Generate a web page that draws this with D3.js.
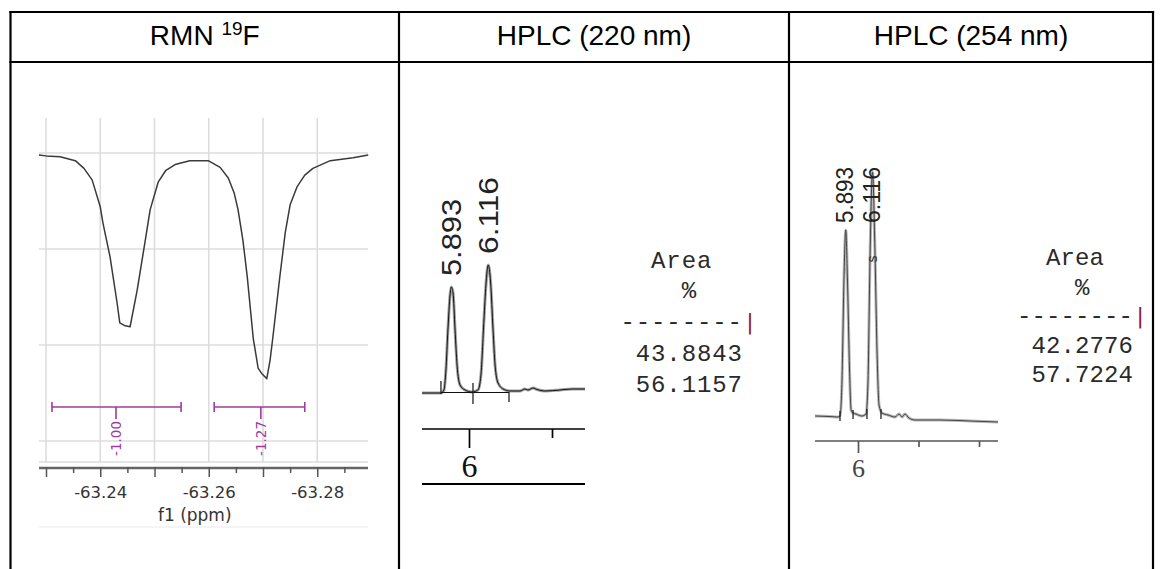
<!DOCTYPE html>
<html><head><meta charset="utf-8">
<script src="https://cdn.jsdelivr.net/npm/d3@7"></script>
<style>html,body{margin:0;padding:0;background:#fff;} svg{display:block;}</style>
</head><body>
<svg id="chart" width="1164" height="569"></svg>
<script>
// ---------------- DATA ----------------
const headers = ["RMN", "HPLC (220 nm)", "HPLC (254 nm)"];
const headerSup = "19";
const headerTail = "F";

// 19F NMR spectrum (ppm vs intensity, peaks drawn downward)
const nmrPpm = [-63.2287, -63.2300, -63.2326, -63.2354, -63.2370, -63.2385, -63.2400, -63.2405,
  -63.2418, -63.2431, -63.2436, -63.2446, -63.2455, -63.2468, -63.2483, -63.2492, -63.2507,
  -63.2521, -63.2538, -63.2565, -63.2599, -63.2621, -63.2636, -63.2647, -63.2654, -63.2663,
  -63.2671, -63.2682, -63.2691, -63.2698, -63.2707, -63.2713, -63.2718, -63.2731, -63.2741,
  -63.2750, -63.2763, -63.2777, -63.2792, -63.2824, -63.2866, -63.2894];
const nmrIntensity = [-0.02, -0.03, -0.04, -0.08, -0.16, -0.28, -0.56, -0.73,
  -1.08, -1.56, -1.77, -1.80, -1.81, -1.43, -0.91, -0.59, -0.30,
  -0.18, -0.12, -0.08, -0.08, -0.15, -0.26, -0.42, -0.59, -0.91,
  -1.29, -1.93, -2.24, -2.30, -2.35, -2.16, -1.93, -1.29, -0.83,
  -0.54, -0.35, -0.23, -0.16, -0.08, -0.05, -0.02];
const nmrTicks = [-63.230, -63.235, -63.240, -63.245, -63.250, -63.255, -63.260,
  -63.265, -63.270, -63.275, -63.280, -63.285];
const nmrTickLabels = [-63.24, -63.26, -63.28];
const nmrGridX = [-63.23, -63.24, -63.25, -63.26, -63.27, -63.28];
const nmrGridY = [0, -1, -2, -3];
const nmrAxisTitle = "f1 (ppm)";
const integralFrom = [-63.2311, -63.2610];
const integralTo = [-63.2549, -63.2777];
const integralCenter = [-63.2429, -63.2696];
const integralValues = ["-1.00", "-1.27"];

// HPLC 220 nm chromatogram (min vs mAU)
const hplc220Time = [5.717, 5.831, 5.849, 5.861, 5.873, 5.886, 5.893, 5.904, 5.916, 5.928,
  5.946, 5.976, 6.018, 6.054, 6.072, 6.090, 6.102, 6.116, 6.130, 6.145, 6.157, 6.175,
  6.205, 6.247, 6.307, 6.337, 6.355, 6.386, 6.410, 6.458, 6.548, 6.620, 6.699];
const hplc220Signal = [0, 0, 3, 23, 63, 98, 106, 100, 63, 28,
  8, 3, 1, 3, 18, 73, 108, 128, 111, 63, 28, 10,
  4, 2, 2, 4, 3, 5, 3.5, 2, 3, 4, 4];
const hplc220Ticks = [6, 6.5];
const hplc220Marks = [5.831, 6.024, 6.241];

// HPLC 254 nm chromatogram
const hplc254Time = [5.645, 5.769, 5.835, 5.851, 5.868, 5.884, 5.899, 5.913, 5.930, 5.943,
  5.959, 5.983, 6.033, 6.066, 6.083, 6.099, 6.120, 6.140, 6.157, 6.174, 6.198, 6.248,
  6.306, 6.339, 6.364, 6.388, 6.421, 6.471, 6.678, 6.926, 7.157];
const hplc254Signal = [0, -0.5, -1, 0, 36, 136, 186, 136, 46, 6,
  3, 2, 0, 2, 36, 156, 244, 166, 66, 11, 3, 1,
  -1, 2, -1, 2, -2, -4, -4, -5, -6];
const hplc254Ticks = [6, 6.5, 7];
const hplc254Marks = [5.851, 5.959, 6.074, 6.190];

const hplcTickLabels = [6];
const peakTimes = [5.893, 6.116];
const peakLabels = ["5.893", "6.116"];
const reportHeader = ["  Area", "    %", "--------|"];
const area220 = ["43.8843", "56.1157"];
const area254 = ["42.2776", "57.7224"];

// ---------------- DRAWING ----------------
const svg = d3.select("#chart");
svg.append("rect").attr("width", 1164).attr("height", 569).attr("fill", "#fff");

// ---- table ----
const colX = [10.5, 399, 789, 1153];
const tableTop = 12, headerBottom = 62;
const tbl = svg.append("g").attr("stroke", "#000").attr("stroke-width", 2.2);
[tableTop, headerBottom].forEach(y => tbl.append("line")
  .attr("x1", colX[0] - 1.1).attr("x2", colX[3] + 1.1).attr("y1", y).attr("y2", y));
colX.forEach(x => tbl.append("line").attr("x1", x).attr("x2", x)
  .attr("y1", tableTop - 1.1).attr("y2", 569));

const hg = svg.append("g").attr("font-family", "'Liberation Sans', Arial, sans-serif")
  .attr("font-size", 28).attr("fill", "#000").attr("text-anchor", "middle");
headers.forEach((h, i) => {
  const t = hg.append("text").attr("x", (colX[i] + colX[i + 1]) / 2).attr("y", 45);
  if (i === 0) {
    t.append("tspan").text(h + " ");
    t.append("tspan").attr("font-size", 19).attr("dy", -10).text(headerSup);
    t.append("tspan").attr("dy", 10).text(headerTail);
  } else t.text(h);
});

// ---- NMR panel ----
const nmrX = d3.scaleLinear().domain([-63.23, -63.28]).range([46, 317.25]);
const nmrY = d3.scaleLinear().domain([0, -3]).range([153, 441]);
const nL = 39, nR = 368, nTop = 118, nGridBottom = 462, nAxisY = 467;
const nmr = svg.append("g");
const grid = nmr.append("g").attr("stroke", "#dcdcdc").attr("stroke-width", 1.6);
nmrGridX.forEach(v => grid.append("line").attr("x1", nmrX(v)).attr("x2", nmrX(v))
  .attr("y1", nTop).attr("y2", nGridBottom));
nmrGridY.forEach(v => grid.append("line").attr("x1", nL).attr("x2", nR)
  .attr("y1", nmrY(v)).attr("y2", nmrY(v)));
grid.append("line").attr("x1", nL).attr("x2", nR).attr("y1", nGridBottom).attr("y2", nGridBottom);
nmr.append("line").attr("x1", nL).attr("x2", nR).attr("y1", 527).attr("y2", 527)
  .attr("stroke", "#f0f0f0").attr("stroke-width", 1.5);

const nmrLine = d3.line().x((d, i) => nmrX(nmrPpm[i])).y(d => nmrY(d));
nmr.append("path").attr("d", nmrLine(nmrIntensity)).attr("fill", "none")
  .attr("stroke", "#3a3a3a").attr("stroke-width", 1.5).attr("stroke-linejoin", "round");

// integrals
const purple = "#a03aa0";
const ig = nmr.append("g").attr("stroke", purple).attr("stroke-width", 1.6);
integralFrom.forEach((f, i) => {
  const x1 = nmrX(f), x2 = nmrX(integralTo[i]), xc = nmrX(integralCenter[i]);
  const yb = 407;
  ig.append("line").attr("x1", x1).attr("x2", x2).attr("y1", yb).attr("y2", yb);
  ig.append("line").attr("x1", x1).attr("x2", x1).attr("y1", yb - 5).attr("y2", yb + 5);
  ig.append("line").attr("x1", x2).attr("x2", x2).attr("y1", yb - 5).attr("y2", yb + 5);
  ig.append("line").attr("x1", xc).attr("x2", xc).attr("y1", yb).attr("y2", yb + 12);
  nmr.append("text").attr("transform", `translate(${xc},${yb + 14}) rotate(-90)`)
    .attr("text-anchor", "end").attr("dy", "0.36em")
    .attr("font-family", "'DejaVu Sans', Verdana, sans-serif").attr("font-size", 13.5)
    .attr("fill", purple).text(integralValues[i]);
});

// axis
nmr.append("line").attr("x1", nL).attr("x2", nR).attr("y1", nAxisY + 1).attr("y2", nAxisY + 1)
  .attr("stroke", "#666").attr("stroke-width", 2.5);
const isLab = d => nmrTickLabels.some(l => Math.abs(l - d) < 1e-6);
const isMajor = d => nmrGridX.some(l => Math.abs(l - d) < 1e-6);
const nAx = nmr.append("g").attr("transform", `translate(0,${nAxisY})`)
  .call(d3.axisBottom(nmrX).tickValues(nmrTicks).tickSize(10)
    .tickFormat(d => isLab(d) ? d.toFixed(2) : ""));
nAx.select(".domain").remove();
nAx.selectAll(".tick line").attr("y2", d => isMajor(d) ? 10 : 6)
  .attr("stroke", "#555").attr("stroke-width", 1.5);
nAx.selectAll(".tick text").attr("y", 31).attr("dy", 0)
  .attr("font-family", "'DejaVu Sans', Verdana, sans-serif").attr("font-size", 16.5)
  .attr("fill", "#333");
nmr.append("text").attr("x", (nmrX(-63.26) - 14)).attr("y", 521).attr("text-anchor", "middle")
  .attr("font-family", "'DejaVu Sans', Verdana, sans-serif").attr("font-size", 17)
  .attr("fill", "#333").text(nmrAxisTitle);

// ---- HPLC helper ----
function hplcPanel(opt) {
  const g = svg.append("g");
  const x = d3.scaleLinear().domain([6, 7]).range([opt.x6, opt.x6 + opt.pxPerMin]);
  const y = d3.scaleLinear().domain([0, opt.yMax]).range([opt.y0, opt.y0 - opt.yMax]);
  const line = d3.line().x((d, i) => x(opt.time[i])).y(d => y(d)).curve(d3.curveMonotoneX);
  g.append("path").attr("d", line(opt.signal)).attr("fill", "none")
    .attr("stroke", opt.under).attr("stroke-width", 3).attr("stroke-linejoin", "round");
  g.append("path").attr("d", line(opt.signal)).attr("fill", "none")
    .attr("stroke", opt.over).attr("stroke-width", 1.0).attr("stroke-linejoin", "round");
  // integration marks
  if (opt.joinMarks) {
    g.append("line").attr("x1", x(opt.marks[0])).attr("x2", x(opt.marks[opt.marks.length - 1]))
      .attr("y1", y(0) - 0.5).attr("y2", y(0) - 0.5).attr("stroke", "#111").attr("stroke-width", 1.1);
  }
  opt.marks.forEach((m, i) => {
    const off = opt.markOffsets[i];
    g.append("line").attr("x1", x(m)).attr("x2", x(m))
      .attr("y1", y(0) + off[0]).attr("y2", y(0) + off[1])
      .attr("stroke", "#222").attr("stroke-width", 1.3);
  });
  // peak labels
  peakTimes.forEach((t, i) => {
    const yb = opt.labelY ? opt.labelY : y(d3.max(opt.signal.filter((s, k) => Math.abs(opt.time[k] - t) < 0.03))) - 11;
    g.append("text").attr("transform", `translate(${x(t)},${yb}) rotate(-90)`)
      .attr("dy", "0.36em").attr("font-family", "'Liberation Sans', Arial, sans-serif")
      .attr("font-size", opt.labelSize).attr("fill", "#222")
      .attr("textLength", opt.labelLen).attr("lengthAdjust", "spacingAndGlyphs").text(peakLabels[i]);
  });
  // axis
  g.append("line").attr("x1", opt.left).attr("x2", opt.right).attr("y1", opt.axisY).attr("y2", opt.axisY)
    .attr("stroke", opt.axisColor).attr("stroke-width", 1.7);
  const ax = g.append("g").attr("transform", `translate(0,${opt.axisY})`)
    .call(d3.axisBottom(x).tickValues(opt.ticks)
      .tickFormat(d => hplcTickLabels.includes(d) ? d3.format("d")(d) : ""));
  ax.select(".domain").remove();
  ax.selectAll(".tick line").attr("y2", d => hplcTickLabels.includes(d) ? opt.majorLen : opt.minorLen)
    .attr("stroke", opt.axisColor).attr("stroke-width", 1.7);
  ax.selectAll(".tick text").attr("y", opt.labelBase - opt.axisY).attr("dy", 0)
    .attr("font-family", "'Liberation Serif', 'Times New Roman', serif")
    .attr("font-size", opt.tickSize).attr("fill", opt.tickColor);
  if (opt.bottomLine) {
    g.append("line").attr("x1", opt.left).attr("x2", opt.right).attr("y1", opt.bottomLine).attr("y2", opt.bottomLine)
      .attr("stroke", "#000").attr("stroke-width", 2.2);
  }
  // area report
  const lines = reportHeader.concat(opt.areas.map(v => " " + v));
  const rg = g.append("g").attr("font-family", "'Liberation Mono', 'Courier New', monospace")
    .attr("font-size", 24).attr("text-anchor", "middle");
  lines.forEach((ln, r) => {
    ln.split("").forEach((ch, c) => {
      if (ch === " ") return;
      rg.append("text").attr("x", opt.repX + (c + 0.5) * opt.repW).attr("y", opt.repY[r])
        .attr("fill", ch === "|" ? "#8b2040" : "#2a2a2a")
        .attr("font-family", ch === "|" ? "'DejaVu Sans', sans-serif" : null)
        .attr("font-size", ch === "|" ? 22 : null)
        .text(ch);
    });
  });
  return {g, x, y};
}

hplcPanel({
  time: hplc220Time, signal: hplc220Signal, x6: 469, pxPerMin: 166, y0: 393, yMax: 128,
  under: "#a0a0a0", over: "#151515", marks: hplc220Marks, joinMarks: true,
  markOffsets: [[-12, 1], [-10, 11], [-1, 9]],
  labelSize: 28, labelLen: 77, left: 422, right: 585, axisY: 429, axisColor: "#000",
  ticks: hplc220Ticks, majorLen: 19, minorLen: 9, labelBase: 477, tickSize: 32, tickColor: "#111",
  bottomLine: 484, areas: area220, repX: 620, repW: 15.3, repY: [268, 298, 329, 361, 391.5]
});

const p3 = hplcPanel({
  time: hplc254Time, signal: hplc254Signal, x6: 858, pxPerMin: 121, y0: 416, yMax: 244,
  under: "#b8b8b8", over: "#444", marks: hplc254Marks, joinMarks: false,
  markOffsets: [[-5, 5], [-6, 3], [-7, 3], [-7, 3]],
  labelSize: 23, labelLen: 56, labelY: 223, left: 815, right: 998, axisY: 441, axisColor: "#555",
  ticks: hplc254Ticks, majorLen: 12, minorLen: 6, labelBase: 477, tickSize: 26, tickColor: "#444",
  bottomLine: null, areas: area254, repX: 1017, repW: 14.5, repY: [265, 295, 323, 353, 382]
});
p3.g.append("text").attr("transform", `translate(${p3.x(6.116)},259) rotate(-90)`)
  .attr("text-anchor", "middle").attr("dy", "0.35em")
  .attr("font-family", "'Liberation Sans', Arial, sans-serif").attr("font-size", 14)
  .attr("fill", "#333").text("s");
</script>
</body></html>
